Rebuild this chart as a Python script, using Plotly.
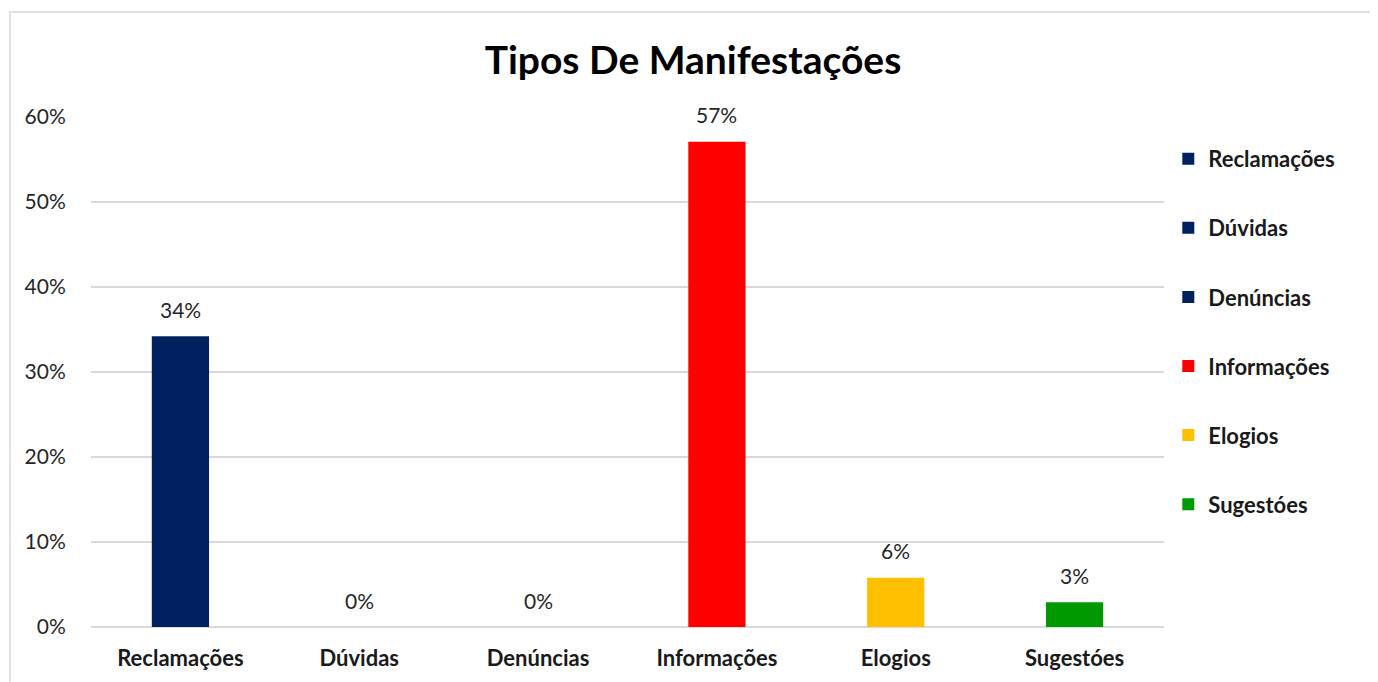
import plotly.graph_objects as go

# dados
categorias = ['Reclamações', 'Dúvidas', 'Denúncias', 'Informações', 'Elogios', 'Sugestóes']
valores = [0.342, 0.0, 0.0, 0.571, 0.058, 0.029]
rotulos = ['34%', '0%', '0%', '57%', '6%', '3%']
cores = ['#002060', '#002060', '#002060', '#FF0000', '#FFC000', '#009900']

FONTE = 'Lato, Carlito, Calibri, sans-serif'

fig = go.Figure()

for i, cat in enumerate(categorias):
    fig.add_trace(go.Bar(
        x=[cat], y=[valores[i]],
        name=cat, legendgroup=cat,
        marker=dict(color=cores[i], line=dict(width=0)),
        width=0.32,
        hoverinfo='x+y',
    ))
    # rótulo de dados acima da barra
    fig.add_annotation(x=cat, y=valores[i], text=rotulos[i], showarrow=False,
                       yanchor='middle', yshift=27,
                       font=dict(size=21, color='#262626', family=FONTE))

# página do navegador tem margem de 8px: figura 1370x674
fig.update_layout(
    width=1370, height=674,
    barmode='overlay',
    plot_bgcolor='white', paper_bgcolor='white',
    font=dict(family=FONTE, color='#262626'),
    title=dict(text='<b>Tipos De Manifestações</b>', x=0.5, xanchor='center',
               y=0.923, yanchor='middle',
               font=dict(size=39, color='#000000', family=FONTE)),
    margin=dict(l=83, r=214, t=109, b=55),
    legend=dict(x=1.004, xanchor='left', y=0.959, yanchor='top',
                font=dict(size=22, color='#1a1a1a', family=FONTE, weight='bold'),
                traceorder='grouped', tracegroupgap=37.5, itemwidth=30),
    showlegend=True,
)

fig.update_xaxes(
    categoryorder='array', categoryarray=categorias,
    tickfont=dict(size=22, color='#1a1a1a', family=FONTE, weight='bold'),
    ticks='outside', ticklen=12, tickcolor='rgba(0,0,0,0)',
    showline=False, showgrid=False,
)
fig.update_yaxes(
    range=[0, 0.6], dtick=0.1, tickformat='.0%',
    tickfont=dict(size=21, color='#262626', family=FONTE),
    showgrid=True, gridcolor='#d9d9d9', gridwidth=1.5,
    zeroline=True, zerolinecolor='#d9d9d9', zerolinewidth=1.5,
    ticks='outside', ticklen=20, tickcolor='rgba(0,0,0,0)',
    showline=False,
)

# moldura do gráfico
fig.add_shape(type='rect', xref='paper', yref='paper',
              x0=-0.0755, x1=1.21, y0=-0.13, y1=1.206,
              line=dict(color='#d9d9d9', width=1.5), fillcolor='rgba(0,0,0,0)',
              layer='below')

fig.write_html('out.html')
